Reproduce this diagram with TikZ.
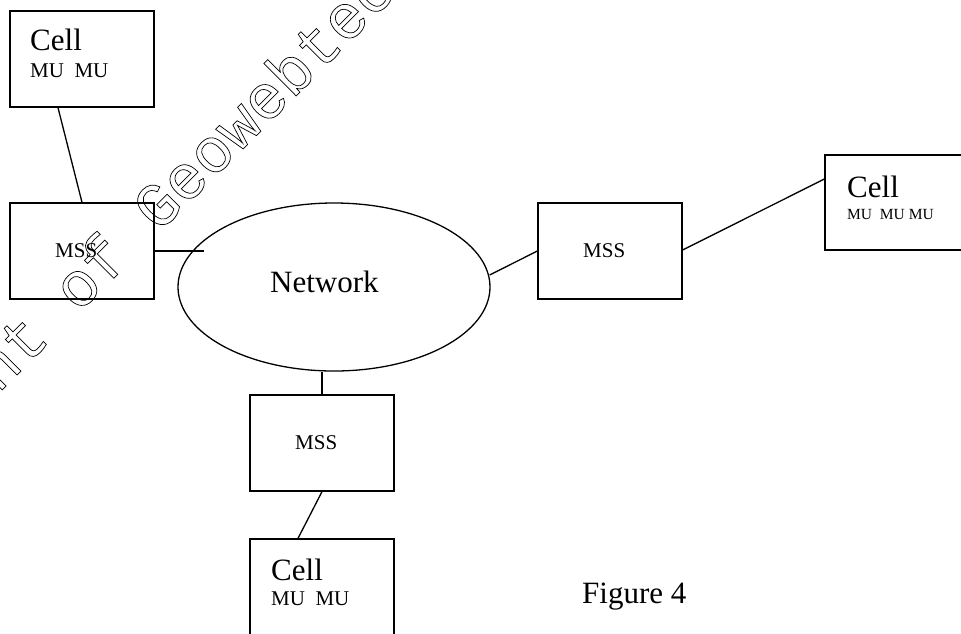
\documentclass[tikz,border=0pt]{standalone}
\usepackage{fontspec}
\setmainfont{Liberation Serif}
\newfontfamily\wmfont{Liberation Mono}
\usetikzlibrary{shapes.geometric,calc}
\tikzset{
  box/.style={draw=black, line width=1.3pt, rectangle, minimum width=144pt, minimum height=96pt, inner sep=0pt},
  netshape/.style={draw=black, line width=1.3pt, ellipse, minimum width=312pt, minimum height=168pt, inner sep=0pt},
  conn/.style={draw=black, line width=1.3pt},
  bigtxt/.style={anchor=base west, inner sep=0pt, font=\fontsize{31}{36}\selectfont},
  midtxt/.style={anchor=base west, inner sep=0pt, font=\fontsize{21}{25}\selectfont},
  smalltxt/.style={anchor=base west, inner sep=0pt, font=\fontsize{15.5}{19}\selectfont},
  wmark/.style={anchor=base west, inner sep=0pt, rotate=45, font=\wmfont\fontsize{63}{70}\selectfont}
}
\begin{document}
\begin{tikzpicture}[x=1pt,y=-1pt]
\useasboundingbox (0,0) rectangle (961,633);
\begin{scope}
\clip (0,0) rectangle (961,633);
% boxes
\node[box] (c1) at (82,59) {};
\node[box] (mss1) at (82,251) {};
\node[box] (mss2) at (610,251) {};
\node[box, minimum height=95pt] (c3) at (897,202.5) {};
\node[box] (mss3) at (322,443) {};
\node[box] (c4) at (322,587) {};
\node[netshape] (net) at (334,287) {};
% connectors
\draw[conn] ($(c1.south)+(-24,0)$) -- (mss1.north);
\coordinate (mssend) at ($(mss1.east)+(49,0)$);
\draw[conn] (mss1.east) -- (mssend);
\draw[conn] ($(net.east)+(-1,-12)$) -- (mss2.west);
\draw[conn] ($(mss2.east)+(0,-1)$) -- ($(c3.west)+(0,-23.5)$);
\draw[conn] ($(net.south)+(-12,0)$) -- (mss3.north);
\draw[conn] (mss3.south) -- ($(c4.north)+(-24,0)$);
% texts
\node[bigtxt] (t1) at (30,50) {Cell};
\node[midtxt] (t2) at (30,77) {MU~~MU};
\node[midtxt] (t3) at (55,257) {MSS};
\node[bigtxt] (t4) at (270,292) {Network};
\node[midtxt] (t5) at (583,257) {MSS};
\node[bigtxt] (t6) at (847,197) {Cell};
\node[smalltxt] (t7) at (847,219) {MU~~MU MU};
\node[midtxt] (t8) at (295,449) {MSS};
\node[bigtxt] (t9) at (271,580) {Cell};
\node[midtxt] (t10) at (271,605) {MU~~MU};
\node[bigtxt] (t11) at (582,603) {Figure 4};
% watermark
\node[wmark] (wm) at (-2,394) {\special{pdf:literal direct 1 Tr 0.7 w}nt of Geowebtech\special{pdf:literal direct 0 Tr}};
\end{scope}
\end{tikzpicture}
\end{document}
